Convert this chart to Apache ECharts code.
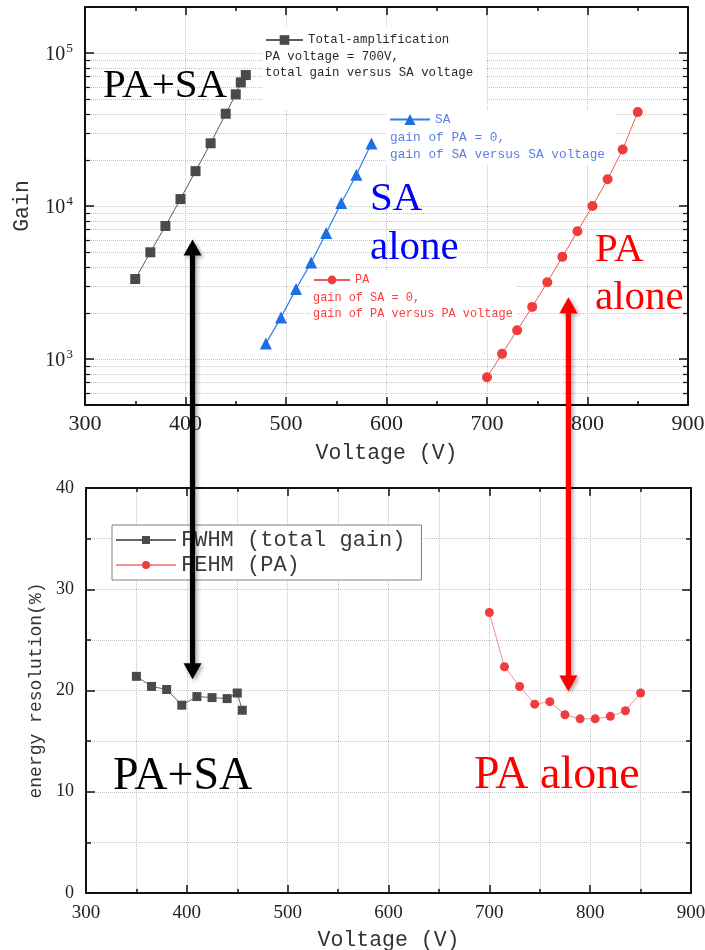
<!DOCTYPE html>
<html><head><meta charset="utf-8">
<script src="https://cdn.jsdelivr.net/npm/echarts@6/dist/echarts.min.js"></script>
<style>html,body{margin:0;padding:0;background:#fff}#c{width:705px;height:950px}</style>
</head><body><div id="c"></div>
<script>
// ---- data ----
const totalV    = [350, 365, 380, 395, 410, 425, 440, 450, 455, 460];
const totalGain = [3330, 4980, 7400, 11100, 16900, 25700, 40100, 53700, 64300, 71800];
const saV       = [480, 495, 510, 525, 540, 555, 570, 585];
const saGain    = [1260, 1870, 2870, 4270, 6660, 10460, 16000, 25600];
const paV       = [700, 715, 730, 745, 760, 775, 790, 805, 820, 835, 850];
const paGain    = [760, 1080, 1540, 2190, 3170, 4650, 6830, 10000, 14950, 23400, 41100];
const fwhmV     = [350, 365, 380, 395, 410, 425, 440, 450, 455];
const fwhmRes   = [21.4, 20.4, 20.1, 18.55, 19.4, 19.3, 19.2, 19.75, 18.05];
const fehmV     = [700, 715, 730, 745, 760, 775, 790, 805, 820, 835, 850];
const fehmRes   = [27.7, 22.35, 20.4, 18.65, 18.9, 17.6, 17.2, 17.2, 17.45, 18.0, 19.75];
const xTicks    = [300, 400, 500, 600, 700, 800, 900];
const legendTotal = ['Total-amplification', 'PA voltage = 700V,', 'total gain versus SA voltage'];
const legendSA    = ['SA', 'gain of PA = 0,', 'gain of SA versus SA voltage'];
const legendPA    = ['PA', 'gain of SA = 0,', 'gain of PA versus PA voltage'];

const zip = (a, b) => a.map((v, i) => [v, b[i]]);
const MONO = '"Liberation Mono", "DejaVu Sans Mono", monospace';
const SERIF = '"Liberation Serif", "DejaVu Serif", serif';
const AX = '#111';
const GRIDC = '#c4c4c4';

function xAxisDef(grid, pos, main, labelSize, labelMargin, nameGap, minorGrid) {
  return {
    gridIndex: grid, type: 'value', position: pos,
    min: xTicks[0], max: xTicks[xTicks.length - 1], interval: 100,
    axisLine: { show: true, onZero: false, lineStyle: { color: AX, width: 2 } },
    axisTick: { show: true, inside: true, length: 8, lineStyle: { color: AX, width: 1.5 } },
    minorTick: { show: true, splitNumber: 2, length: 4, lineStyle: { color: AX, width: 1.5 } },
    splitLine: { show: main, lineStyle: { type: 'dotted', color: GRIDC, width: 1 } },
    minorSplitLine: { show: main && minorGrid, lineStyle: { type: 'dotted', color: GRIDC, width: 1 } },
    axisLabel: { show: main, fontFamily: SERIF, fontSize: labelSize, color: '#222', margin: labelMargin },
    name: main ? 'Voltage (V)' : '', nameLocation: 'middle', nameGap: nameGap,
    nameTextStyle: { fontFamily: MONO, fontSize: 21.5, color: '#333' }
  };
}

function logAxisDef(pos, main) {
  return {
    gridIndex: 0, type: 'log', logBase: 10, position: pos, min: 500, max: 200000,
    axisLine: { show: true, onZero: false, lineStyle: { color: AX, width: 2 } },
    axisTick: { show: true, inside: true, length: 9, lineStyle: { color: AX, width: 1.5 } },
    minorTick: { show: true, splitNumber: 9, length: 5, lineStyle: { color: AX, width: 1.2 } },
    splitLine: { show: main, lineStyle: { type: 'dotted', color: GRIDC, width: 1 } },
    minorSplitLine: { show: main, lineStyle: { type: 'dotted', color: GRIDC, width: 1 } },
    axisLabel: {
      show: main, showMinLabel: false, showMaxLabel: false, margin: 12,
      formatter: v => '{b|10}{s|' + Math.round(Math.log10(v)) + '}',
      rich: {
        b: { fontFamily: SERIF, fontSize: 20, color: '#222', lineHeight: 24, verticalAlign: 'bottom' },
        s: { fontFamily: SERIF, fontSize: 13.5, color: '#222', lineHeight: 13, verticalAlign: 'top', padding: [0, 0, 0, 1] }
      }
    },
    name: main ? 'Gain' : '', nameLocation: 'middle', nameGap: 52, nameRotate: 90,
    nameTextStyle: { fontFamily: MONO, fontSize: 21.5, color: '#333' }
  };
}

function resAxisDef(pos, main) {
  return {
    gridIndex: 1, type: 'value', position: pos, min: 0, max: 40, interval: 10,
    axisLine: { show: true, onZero: false, lineStyle: { color: AX, width: 2 } },
    axisTick: { show: true, inside: true, length: 9, lineStyle: { color: AX, width: 1.5 } },
    minorTick: { show: true, splitNumber: 2, length: 5, lineStyle: { color: AX, width: 1.5 } },
    splitLine: { show: main, lineStyle: { type: 'dotted', color: GRIDC, width: 1 } },
    minorSplitLine: { show: main, lineStyle: { type: 'dotted', color: GRIDC, width: 1 } },
    axisLabel: { show: main, fontFamily: SERIF, fontSize: 18, color: '#222', margin: 12 },
    name: main ? 'energy resolution(%)' : '', nameLocation: 'middle', nameGap: 34, nameRotate: 90,
    nameTextStyle: { fontFamily: MONO, fontSize: 18, color: '#333' }
  };
}

const chart = echarts.init(document.getElementById('c'), null, { renderer: 'canvas' });

const legendText = (color, size) => ({ fontFamily: MONO, fontSize: size, color: color });

const option = {
  backgroundColor: '#fff',
  animation: false,
  grid: [
    { left: 85, top: 7, width: 603, height: 398, outerBoundsMode: 'none', containLabel: false },
    { left: 86, top: 488, width: 605, height: 405, outerBoundsMode: 'none', containLabel: false }
  ],
  xAxis: [
    xAxisDef(0, 'bottom', true, 22, 8, 37, false),
    xAxisDef(0, 'top', false, 22, 8, 37, false),
    xAxisDef(1, 'bottom', true, 19, 11, 36, true),
    xAxisDef(1, 'top', false, 19, 11, 36, true)
  ],
  yAxis: [
    logAxisDef('left', true),
    logAxisDef('right', false),
    resAxisDef('left', true),
    resAxisDef('right', false)
  ],
  legend: [
    { data: [legendTotal[0]], left: 265, top: 34, padding: 0, itemWidth: 37, itemHeight: 12,
      textStyle: legendText('#2a2a2a', 12.4), selectedMode: false },
    { data: [legendSA[0]], left: 389, top: 113, padding: 0, itemWidth: 40, itemHeight: 14,
      textStyle: legendText('#5b7ee8', 12.8), selectedMode: false },
    { data: [legendPA[0]], left: 313, top: 274, padding: 0, itemWidth: 36, itemHeight: 11,
      textStyle: legendText('#ff3b3b', 11.9), selectedMode: false },
    { data: ['FWHM (total gain)', 'FEHM (PA)'], orient: 'vertical', left: 112, top: 525,
      padding: [4, 16, 4, 3], itemGap: 3, itemWidth: 60, itemHeight: 10,
      borderColor: '#808080', borderWidth: 1, backgroundColor: '#fff',
      textStyle: { fontFamily: MONO, fontSize: 22, color: '#3a3a3a', lineHeight: 22 }, selectedMode: false }
  ],
  series: [
    { name: legendTotal[0], type: 'line', xAxisIndex: 0, yAxisIndex: 0, data: zip(totalV, totalGain),
      symbol: 'rect', symbolSize: 10, lineStyle: { color: '#5a5a5a', width: 1 }, itemStyle: { color: '#4a4a4a' } },
    { name: legendSA[0], type: 'line', xAxisIndex: 0, yAxisIndex: 0, data: zip(saV, saGain),
      symbol: 'triangle', symbolSize: 12, lineStyle: { color: '#2d7fe8', width: 1.2 }, itemStyle: { color: '#1e6fe3' } },
    { name: legendPA[0], type: 'line', xAxisIndex: 0, yAxisIndex: 0, data: zip(paV, paGain),
      symbol: 'circle', symbolSize: 10, lineStyle: { color: '#f25a5a', width: 1 }, itemStyle: { color: '#ee3d3d' } },
    { name: 'FWHM (total gain)', type: 'line', xAxisIndex: 2, yAxisIndex: 2, data: zip(fwhmV, fwhmRes),
      symbol: 'rect', symbolSize: 9, lineStyle: { color: '#666', width: 1 }, itemStyle: { color: '#4a4a4a' } },
    { name: 'FEHM (PA)', type: 'line', xAxisIndex: 2, yAxisIndex: 2, data: zip(fehmV, fehmRes),
      symbol: 'circle', symbolSize: 9, lineStyle: { color: '#f59090', width: 1 }, itemStyle: { color: '#ee3d3d' } }
  ]
};
chart.setOption(option);

// ---- annotations (legend extra lines, labels, arrows) ----
const g = [];
g.push({ type: 'rect', z: 1, shape: { x: 262, y: 26, width: 225, height: 84 }, style: { fill: '#fff' } });
g.push({ type: 'rect', z: 1, shape: { x: 386, y: 110, width: 231, height: 55 }, style: { fill: '#fff' } });
g.push({ type: 'rect', z: 1, shape: { x: 311, y: 271, width: 205, height: 49 }, style: { fill: '#fff' } });
function txt(x, y, s, font, fill, z) {
  g.push({ type: 'text', x: x, y: y, z: z || 5, style: { text: s, font: font, fill: fill, verticalAlign: 'middle', align: 'left' } });
}
txt(265, 57, legendTotal[1], '12.4px ' + MONO, '#2a2a2a');
txt(265, 73, legendTotal[2], '12.4px ' + MONO, '#2a2a2a');
txt(390, 138, legendSA[1], '12.8px ' + MONO, '#5b7ee8');
txt(390, 155, legendSA[2], '12.8px ' + MONO, '#5b7ee8');
txt(313, 297.5, legendPA[1], '11.9px ' + MONO, '#ff3b3b');
txt(313, 313.5, legendPA[2], '11.9px ' + MONO, '#ff3b3b');

txt(103, 86.5, 'PA+SA', '41px ' + SERIF, '#000', 10);
txt(370, 199.5, 'SA', '41px ' + SERIF, '#0000ff', 10);
txt(370, 248, 'alone', '41px ' + SERIF, '#0000ff', 10);
txt(595, 250, 'PA', '41px ' + SERIF, '#ff0000', 10);
txt(595, 298, 'alone', '41px ' + SERIF, '#ff0000', 10);
txt(113, 776.5, 'PA+SA', '46px ' + SERIF, '#000', 10);
txt(474, 776, 'PA alone', '46px ' + SERIF, '#ff0000', 10);

function arrow(x, y1, y2, color) {
  const hw = 9, hh = 16, sw = 2.6;
  g.push({ type: 'polygon', z: 20,
    shape: { points: [[x, y1], [x + hw, y1 + hh], [x + sw, y1 + hh], [x + sw, y2 - hh], [x + hw, y2 - hh], [x, y2],
                      [x - hw, y2 - hh], [x - sw, y2 - hh], [x - sw, y1 + hh], [x - hw, y1 + hh]] },
    style: { fill: color, shadowBlur: 4, shadowOffsetX: 2, shadowOffsetY: 2, shadowColor: 'rgba(0,0,0,0.35)' } });
}
const bTop = chart.convertToPixel({ xAxisIndex: 0, yAxisIndex: 0 }, [407, 6050]);
const bBot = chart.convertToPixel({ xAxisIndex: 2, yAxisIndex: 2 }, [406, 21.1]);
const rTop = chart.convertToPixel({ xAxisIndex: 0, yAxisIndex: 0 }, [781, 2530]);
const rBot = chart.convertToPixel({ xAxisIndex: 2, yAxisIndex: 2 }, [779, 19.9]);
arrow(bTop[0], bTop[1], bBot[1], '#000');
arrow(rTop[0], rTop[1], rBot[1], '#ff0000');

chart.setOption({ graphic: g });
</script></body></html>
